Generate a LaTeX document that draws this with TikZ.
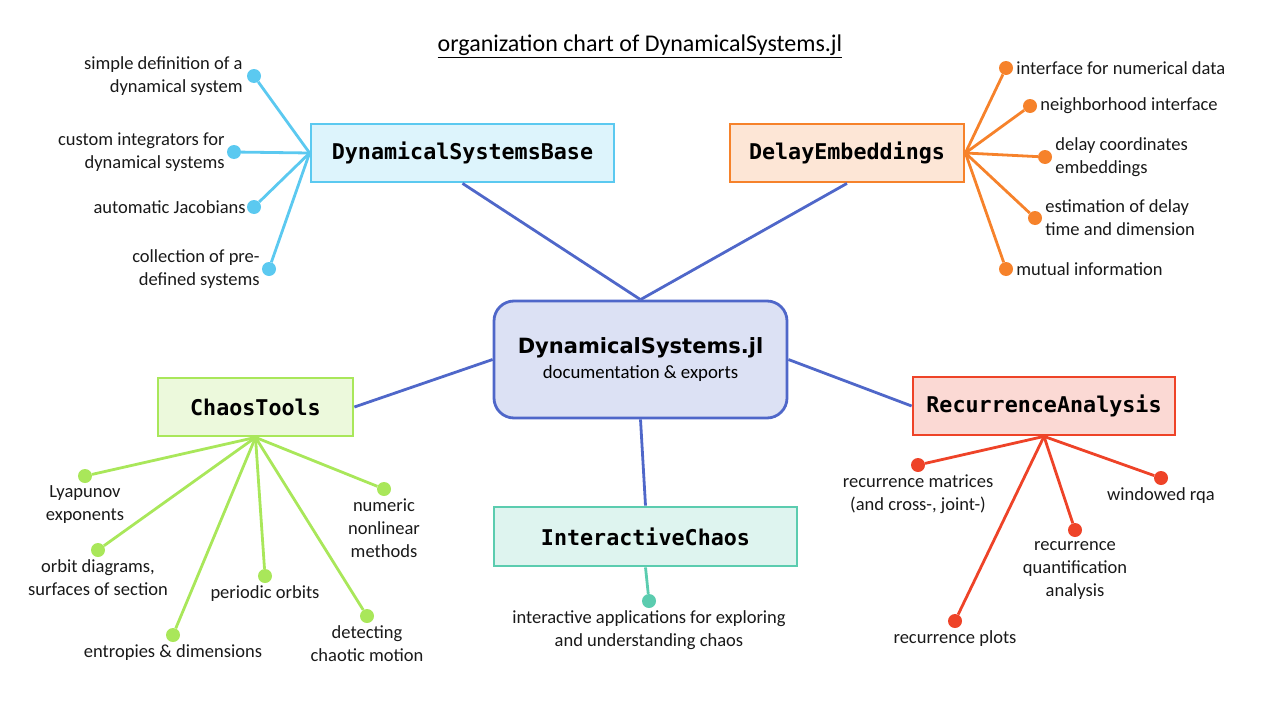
\documentclass[tikz,border=0pt]{standalone}
\usepackage{fontspec}
\setmainfont{Carlito}
\newfontfamily\pkgfont{DejaVu Sans Mono}
\newfontfamily\hubfont{DejaVu Sans}
\usetikzlibrary{positioning}

\definecolor{hubc}{HTML}{4F67C9}
\definecolor{hubfill}{HTML}{DCE1F4}
\definecolor{basec}{HTML}{5BC9F0}
\definecolor{basefill}{HTML}{DDF4FC}
\definecolor{delayc}{HTML}{F6822B}
\definecolor{delayfill}{HTML}{FDE6D6}
\definecolor{chaosc}{HTML}{A9E75A}
\definecolor{chaosfill}{HTML}{ECF9DC}
\definecolor{recc}{HTML}{EE4328}
\definecolor{recfill}{HTML}{FBD9D4}
\definecolor{interc}{HTML}{5BCCAF}
\definecolor{interfill}{HTML}{DEF4EF}

\begin{document}
\begin{tikzpicture}[x=1pt,y=-1pt,
  pkg/.style={draw=#1, line width=2.8pt, inner sep=0pt, minimum height=58pt,
    font=\pkgfont\bfseries\fontsize{21.7}{24}\selectfont},
  dot/.style={circle, fill=#1, inner sep=0pt, minimum size=14pt},
  leaf/.style={font=\fontsize{18.5}{23}\selectfont, inner sep=0pt, text=black!90},
  twig/.style={draw=#1, line width=2.8pt},
  hublink/.style={draw=hubc, line width=2.8pt}]
  \useasboundingbox (0,0) rectangle (1280,720);

  \node[font=\fontsize{24}{28}\selectfont] (title) at (640,46)
    {\underline{organization chart of DynamicalSystems.jl}};

  % packages
  \node[draw=hubc, fill=hubfill, line width=2.8pt, rounded corners=20pt,
    minimum width=293pt, minimum height=117pt, align=center, inner sep=0pt]
    (hub) at (640.5,359.5)
    {{\hubfont\bfseries\fontsize{21}{24}\selectfont DynamicalSystems.jl}\\[7pt]
     {\fontsize{18.8}{22}\selectfont documentation \& exports}};
  \node[pkg=basec, fill=basefill, minimum width=303pt] (dsb) at (462.5,153) {DynamicalSystemsBase};
  \node[pkg=delayc, fill=delayfill, minimum width=234pt] (de) at (847,153) {DelayEmbeddings};
  \node[pkg=chaosc, fill=chaosfill, minimum width=195pt] (ct) at (255.5,407) {ChaosTools};
  \node[pkg=recc, fill=recfill, minimum width=262pt] (ra) at (1044,406) {RecurrenceAnalysis};
  \node[pkg=interc, fill=interfill, minimum width=303pt, minimum height=59pt] (ic) at (645.5,536.5) {InteractiveChaos};

  \draw[hublink] (hub.north) -- (dsb.south);
  \draw[hublink] (hub.north) -- (de.south);
  \draw[hublink] (hub.west) -- (ct.east);
  \draw[hublink] (hub.east) -- (ra.west);
  \draw[hublink] (hub.south) -- (ic.north);

  % DynamicalSystemsBase
  \node[dot=basec] (b1) at (254,76) {};
  \node[dot=basec] (b2) at (234,152) {};
  \node[dot=basec] (b3) at (254,207) {};
  \node[dot=basec] (b4) at (269,269) {};
  \draw[twig=basec] (dsb.west) -- (b1);
  \draw[twig=basec] (dsb.west) -- (b2);
  \draw[twig=basec] (dsb.west) -- (b3);
  \draw[twig=basec] (dsb.west) -- (b4);
  \node[leaf, align=right, left=4pt of b1] (b1t) {simple definition of a\\dynamical system};
  \node[leaf, align=right, left=2pt of b2] (b2t) {custom integrators for\\dynamical systems};
  \node[leaf, align=right, left=1pt of b3] (b3t) {automatic Jacobians};
  \node[leaf, align=right, left=2pt of b4] (b4t) {collection of pre-\\defined systems};

  % DelayEmbeddings
  \node[dot=delayc] (e1) at (1006,68) {};
  \node[dot=delayc] (e2) at (1030,106) {};
  \node[dot=delayc] (e3) at (1045,157) {};
  \node[dot=delayc] (e4) at (1035,218) {};
  \node[dot=delayc] (e5) at (1006,269) {};
  \draw[twig=delayc] (de.east) -- (e1);
  \draw[twig=delayc] (de.east) -- (e2);
  \draw[twig=delayc] (de.east) -- (e3);
  \draw[twig=delayc] (de.east) -- (e4);
  \draw[twig=delayc] (de.east) -- (e5);
  \node[leaf, align=left, right=3pt of e1] (e1t) {interface for numerical data};
  \node[leaf, align=left, right=3pt of e2] (e2t) {neighborhood interface};
  \node[leaf, align=left, right=3pt of e3] (e3t) {delay coordinates\\embeddings};
  \node[leaf, align=left, right=3pt of e4] (e4t) {estimation of delay\\time and dimension};
  \node[leaf, align=left, right=3pt of e5] (e5t) {mutual information};

  % ChaosTools
  \node[dot=chaosc] (c1) at (85,476) {};
  \node[dot=chaosc] (c2) at (98,550) {};
  \node[dot=chaosc] (c3) at (173,635) {};
  \node[dot=chaosc] (c4) at (265,576) {};
  \node[dot=chaosc] (c5) at (367,616) {};
  \node[dot=chaosc] (c6) at (384,489) {};
  \draw[twig=chaosc] (ct.south) -- (c1);
  \draw[twig=chaosc] (ct.south) -- (c2);
  \draw[twig=chaosc] (ct.south) -- (c3);
  \draw[twig=chaosc] (ct.south) -- (c4);
  \draw[twig=chaosc] (ct.south) -- (c5);
  \draw[twig=chaosc] (ct.south) -- (c6);
  \node[leaf, align=center, below=2pt of c1] (c1t) {Lyapunov\\exponents};
  \node[leaf, align=center, below=2pt of c2] (c2t) {orbit diagrams,\\surfaces of section};
  \node[leaf, align=center, below=2pt of c3] (c3t) {entropies \& dimensions};
  \node[leaf, align=center, below=2pt of c4] (c4t) {periodic orbits};
  \node[leaf, align=center, below=2pt of c5] (c5t) {detecting\\chaotic motion};
  \node[leaf, align=center, below=2pt of c6] (c6t) {numeric\\nonlinear\\methods};

  % RecurrenceAnalysis
  \node[dot=recc] (r1) at (918,465) {};
  \node[dot=recc] (r2) at (955,621) {};
  \node[dot=recc] (r3) at (1075,530) {};
  \node[dot=recc] (r4) at (1161,478) {};
  \draw[twig=recc] (ra.south) -- (r1);
  \draw[twig=recc] (ra.south) -- (r2);
  \draw[twig=recc] (ra.south) -- (r3);
  \draw[twig=recc] (ra.south) -- (r4);
  \node[leaf, align=center, below=2pt of r1] (r1t) {recurrence matrices\\(and cross-, joint-)};
  \node[leaf, align=center, below=2pt of r2] (r2t) {recurrence plots};
  \node[leaf, align=center, below=4pt of r3] (r3t) {recurrence\\quantification\\analysis};
  \node[leaf, align=center, below=2pt of r4] (r4t) {windowed rqa};

  % InteractiveChaos
  \node[dot=interc] (i1) at (649,601) {};
  \draw[twig=interc] (ic.south) -- (i1);
  \node[leaf, align=center, below=2pt of i1] (i1t) {interactive applications for exploring\\and understanding chaos};
\end{tikzpicture}
\end{document}
